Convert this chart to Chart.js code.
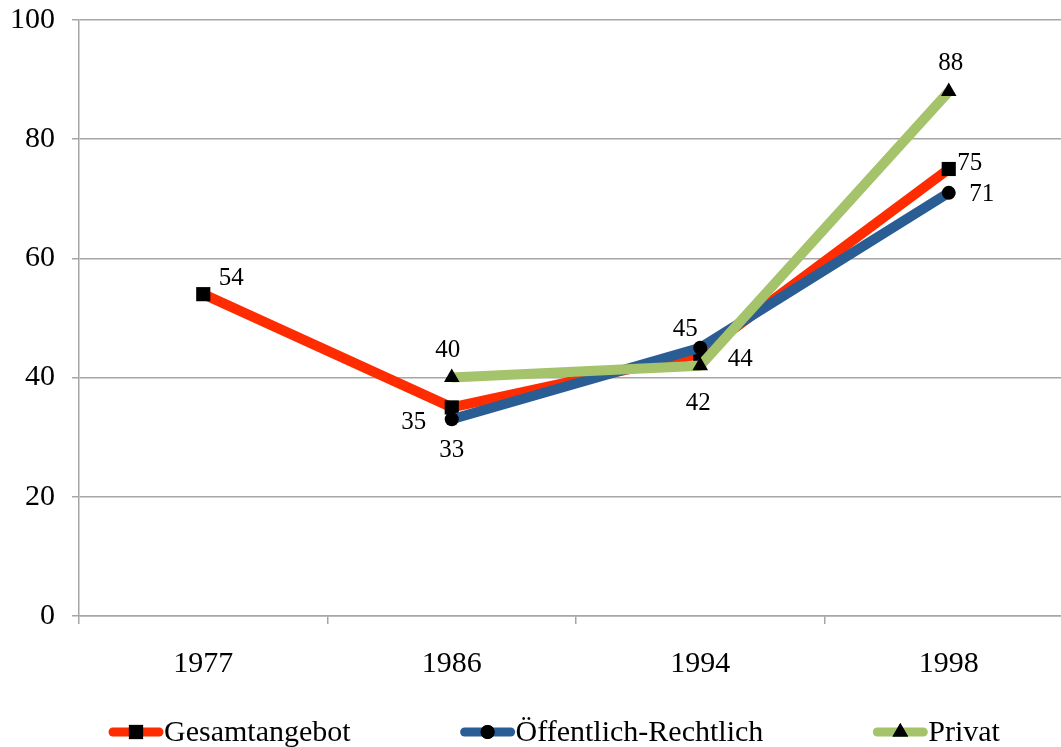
<!DOCTYPE html>
<html><head><meta charset="utf-8">
<script src="https://cdn.jsdelivr.net/npm/chart.js@4"></script>
<style>html,body{margin:0;padding:0;overflow:hidden;background:#fff;width:1061px;height:747px}</style>
</head><body>
<canvas id="c" width="1080" height="747"></canvas>
<script>
const categories = ['1977', '1986', '1994', '1998'];
const gesamtangebot = [54, 35, 44, 75];
const oeffentlich = [null, 33, 45, 71];
const privat = [null, 40, 42, 88];
const seriesNames = ['Gesamtangebot', 'Öffentlich-Rechtlich', 'Privat'];

const FONT = '"Liberation Serif", "Times New Roman", serif';

const dataLabels = {
  id: 'dataLabels',
  afterDatasetsDraw(chart) {
    const ctx = chart.ctx;
    ctx.save();
    ctx.font = '25px ' + FONT;
    ctx.fillStyle = '#000';
    ctx.textAlign = 'center';
    ctx.textBaseline = 'middle';
    chart.data.datasets.forEach((ds, di) => {
      const meta = chart.getDatasetMeta(di);
      ds.data.forEach((v, i) => {
        if (v === null) return;
        const p = meta.data[i];
        const off = ds.labelOffsets[i];
        ctx.fillText(String(v), p.x + off[0], p.y + off[1]);
      });
    });
    ctx.restore();
  }
};

const customLegend = {
  id: 'customLegend',
  afterDraw(chart) {
    const ctx = chart.ctx;
    ctx.save();
    ctx.font = '30px ' + FONT;
    ctx.textBaseline = 'middle';
    ctx.textAlign = 'left';
    const y = 732;
    let x = 110;
    chart.data.datasets.forEach((ds) => {
      const lineLen = 52;
      ctx.strokeStyle = ds.borderColor;
      ctx.lineWidth = 9;
      ctx.lineCap = 'round';
      ctx.beginPath();
      ctx.moveTo(x + 3, y);
      ctx.lineTo(x + lineLen - 3, y);
      ctx.stroke();
      Chart.helpers.drawPoint(ctx, {pointStyle: ds.pointStyle, radius: ds.pointRadius, borderWidth: 0}, x + lineLen / 2, y);
      ctx.fillStyle = '#000';
      ctx.fill();
      ctx.fillText(ds.label, x + lineLen + 2, y + 1);
      const w = ctx.measureText(ds.label).width;
      x += lineLen + 2 + w + 111;
    });
    ctx.restore();
  }
};

new Chart(document.getElementById('c'), {
  type: 'line',
  data: {
    labels: categories,
    datasets: [
      { label: seriesNames[0], data: gesamtangebot, borderColor: '#FE2C00', backgroundColor: '#000',
        pointBackgroundColor: '#000', pointBorderWidth: 0, pointStyle: 'rect', pointRadius: 10,
        borderWidth: 10, order: 3,
        labelOffsets: [[28, -16], [-38, 15], [40, 6], [21, -6]] },
      { label: seriesNames[1], data: oeffentlich, borderColor: '#2B5D95', backgroundColor: '#000',
        pointBackgroundColor: '#000', pointBorderWidth: 0, pointStyle: 'circle', pointRadius: 7,
        borderWidth: 10, order: 2,
        labelOffsets: [[0, 0], [0, 31], [-15, -18], [33, 2]] },
      { label: seriesNames[2], data: privat, borderColor: '#A4C36A', backgroundColor: '#000',
        pointBackgroundColor: '#000', pointBorderWidth: 0, pointStyle: 'triangle', pointRadius: 9,
        borderWidth: 10, order: 1,
        labelOffsets: [[0, 0], [-4, -27], [-2, 38], [2, -28]] }
    ]
  },
  options: {
    responsive: false,
    animation: false,
    devicePixelRatio: 1,
    layout: { autoPadding: false, padding: { top: 20, right: 7, left: 0, bottom: 0 } },
    plugins: { legend: { display: false }, tooltip: { enabled: false } },
    elements: { line: { tension: 0, borderJoinStyle: 'round', borderCapStyle: 'butt' } },
    scales: {
      x: {
        offset: true,
        grid: { offset: true, drawOnChartArea: false, drawTicks: true, tickLength: 8, color: '#A6A6A6', lineWidth: 1.5 },
        border: { color: '#A6A6A6', width: 1.5 },
        ticks: { color: '#000', font: { family: FONT, size: 30 }, padding: 22, maxRotation: 0 },
        afterFit(s) { s.height = 131; s.paddingLeft = 0; s.paddingRight = 0; }
      },
      y: {
        min: 0, max: 100,
        ticks: { stepSize: 20, color: '#000', font: { family: FONT, size: 30 }, padding: 17 },
        grid: { color: '#A6A6A6', lineWidth: 1.5, tickLength: 7 },
        border: { color: '#A6A6A6', width: 1.5 },
        afterFit(s) { s.width = 79; s.paddingTop = 0; s.paddingBottom = 0; }
      }
    }
  },
  plugins: [dataLabels, customLegend]
});
</script>
</body></html>
